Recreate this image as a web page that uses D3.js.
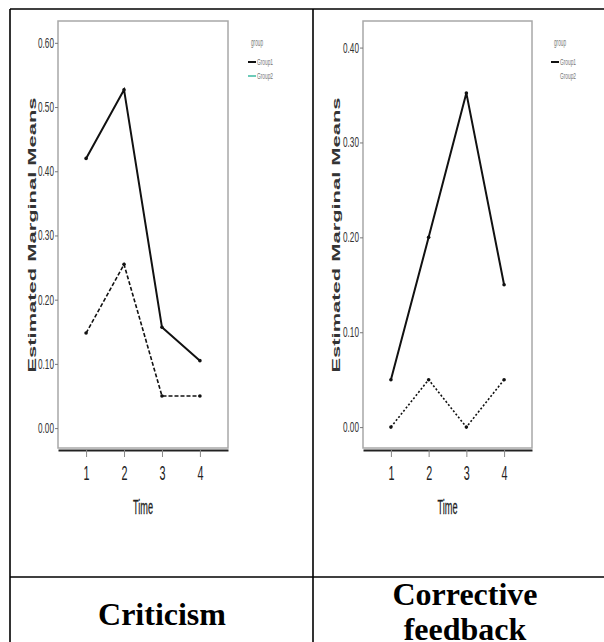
<!DOCTYPE html>
<html><head><meta charset="utf-8">
<script src="https://cdn.jsdelivr.net/npm/d3@7"></script>
<style>body{margin:0;background:#fff}svg{display:block}</style></head>
<body>
<svg id="c" width="604" height="642"></svg>
<script>
const times = [1, 2, 3, 4];
const criticismGroup1 = [0.42, 0.527, 0.157, 0.105];
const criticismGroup2 = [0.148, 0.255, 0.05, 0.05];
const correctiveGroup1 = [0.05, 0.20, 0.352, 0.15];
const correctiveGroup2 = [0.0, 0.05, 0.0, 0.05];
const criticismTicks = [0, 0.1, 0.2, 0.3, 0.4, 0.5, 0.6];
const correctiveTicks = [0, 0.1, 0.2, 0.3, 0.4];
const seriesNames = ["Group1", "Group2"];
const legendTitle = "group";
const yTitle = "Estimated Marginal Means";
const xTitle = "Time";
const captionLeft = ["Criticism"];
const captionRight = ["Corrective", "feedback"];

const svg = d3.select("#c");
const sans = "'Liberation Sans', Arial, sans-serif";
const serif = "'Liberation Serif', 'Times New Roman', serif";

// table lines
const tbl = svg.append("g").attr("stroke", "#000").attr("stroke-width", 1.6);
tbl.append("line").attr("x1", 10).attr("x2", 604).attr("y1", 9).attr("y2", 9);
tbl.append("line").attr("x1", 10).attr("x2", 10).attr("y1", 9).attr("y2", 642);
tbl.append("line").attr("x1", 313).attr("x2", 313).attr("y1", 9).attr("y2", 642);
tbl.append("line").attr("x1", 10).attr("x2", 604).attr("y1", 577).attr("y2", 577);

const panels = [
  {left: 58, right: 228, top: 21, bottom: 448, yDomain: [-0.031, 0.634], ticks: criticismTicks,
   g1: criticismGroup1, g2: criticismGroup2, dash: "4,2", titleX: 36, legX: 248, g2Legend: true,
   caption: captionLeft, capX: 162, capY: 625},
  {left: 363, right: 532, top: 21, bottom: 448, yDomain: [-0.022, 0.428], ticks: correctiveTicks,
   g1: correctiveGroup1, g2: correctiveGroup2, dash: "2,2", titleX: 340, legX: 551, g2Legend: false,
   caption: captionRight, capX: 465, capY: 605}
];

panels.forEach(p => {
  const g = svg.append("g");
  const x = d3.scaleLinear().domain([0.26, 4.74]).range([p.left, p.right]);
  const y = d3.scaleLinear().domain(p.yDomain).range([p.bottom, p.top]);

  g.append("rect").attr("x", p.left).attr("y", p.top)
    .attr("width", p.right - p.left).attr("height", p.bottom - p.top)
    .attr("fill", "none").attr("stroke", "#a8a8a8").attr("stroke-width", 1.5);

  const ya = g.append("g").attr("transform", `translate(${p.left},0)`)
    .call(d3.axisLeft(y).tickValues(p.ticks).tickFormat(d3.format(".2f")).tickSize(3).tickPadding(1));
  ya.select(".domain").remove();
  ya.selectAll("line").attr("stroke", "#777");
  ya.selectAll("text").attr("font-family", sans).attr("font-size", 14).attr("fill", "#333")
    .attr("textLength", 16).attr("lengthAdjust", "spacingAndGlyphs");

  const xa = g.append("g").attr("transform", `translate(0,${p.bottom + 2})`)
    .call(d3.axisBottom(x).tickValues(times).tickFormat(d3.format("d")).tickSize(7).tickSizeOuter(0).tickPadding(9));
  xa.select(".domain").attr("stroke", "#222").attr("stroke-width", 2);
  xa.selectAll(".tick line").attr("stroke", "#888");
  xa.selectAll("text").attr("font-family", sans).attr("font-size", 20).attr("fill", "#222")
    .attr("textLength", 6).attr("lengthAdjust", "spacingAndGlyphs");

  g.append("text").attr("x", x(2.5)).attr("y", 514).attr("text-anchor", "middle")
    .attr("font-family", sans).attr("font-size", 20).attr("fill", "#222")
    .attr("stroke", "#222").attr("stroke-width", 0.3)
    .attr("textLength", 20).attr("lengthAdjust", "spacingAndGlyphs").text(xTitle);

  g.append("text").attr("transform", `translate(${p.titleX},235) rotate(-90)`)
    .attr("text-anchor", "middle").attr("font-family", sans).attr("font-weight", "bold")
    .attr("font-size", 11.5).attr("fill", "#333")
    .attr("textLength", 275).attr("lengthAdjust", "spacingAndGlyphs").text(yTitle);

  const line = d3.line().x((d, i) => x(times[i])).y(d => y(d));
  g.append("path").datum(p.g1).attr("d", line).attr("fill", "none")
    .attr("stroke", "#111").attr("stroke-width", 2);
  g.append("path").datum(p.g2).attr("d", line).attr("fill", "none")
    .attr("stroke", "#111").attr("stroke-width", 1.6).attr("stroke-dasharray", p.dash);
  [p.g1, p.g2].forEach(s => {
    g.selectAll(null).data(s).enter().append("circle")
      .attr("cx", (d, i) => x(times[i])).attr("cy", d => y(d)).attr("r", 1.8).attr("fill", "#111");
  });

  // legend
  const lg = g.append("g").attr("font-family", sans).attr("fill", "#777");
  lg.append("text").attr("x", p.legX + 3).attr("y", 46).attr("font-size", 10)
    .attr("textLength", 12).attr("lengthAdjust", "spacingAndGlyphs").text(legendTitle);
  lg.append("line").attr("x1", p.legX).attr("x2", p.legX + 8).attr("y1", 62).attr("y2", 62)
    .attr("stroke", "#111").attr("stroke-width", 2);
  lg.append("text").attr("x", p.legX + 9).attr("y", 65).attr("font-size", 9)
    .attr("textLength", 16).attr("lengthAdjust", "spacingAndGlyphs").text(seriesNames[0]);
  if (p.g2Legend) {
    lg.append("line").attr("x1", p.legX).attr("x2", p.legX + 8).attr("y1", 76).attr("y2", 76)
      .attr("stroke", "#3cb8a0").attr("stroke-width", 1.5);
  }
  lg.append("text").attr("x", p.legX + 9).attr("y", 79).attr("font-size", 9)
    .attr("textLength", 16).attr("lengthAdjust", "spacingAndGlyphs").text(seriesNames[1]);

  // caption
  const cap = svg.append("text").attr("x", p.capX).attr("y", p.capY).attr("text-anchor", "middle")
    .attr("font-family", serif).attr("font-weight", "bold").attr("font-size", 32).attr("fill", "#000");
  p.caption.forEach((t, i) => {
    cap.append("tspan").attr("x", p.capX).attr("dy", i === 0 ? 0 : 35).text(t);
  });
});
</script>
</body></html>
